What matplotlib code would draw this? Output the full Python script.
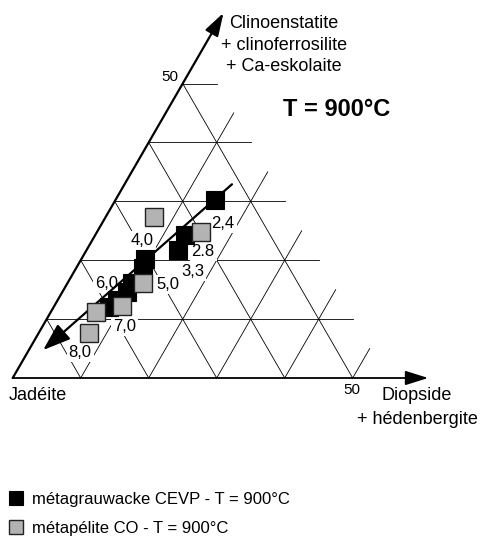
import numpy as np
import matplotlib
import matplotlib.pyplot as plt
matplotlib.rcParams.update({'font.family': ['Liberation Sans', 'DejaVu Sans']})

SIN60 = np.sqrt(3) / 2

# compositions, in % (diopside, clinoenstatite)
grau_di = [14.6, 13.2, 13.4, 9.4, 9.8, 9.5, 9.5, 8.7, 8.1]
grau_en = [30.2, 24.3, 21.7, 20.2, 18.7, 16.1, 14.6, 13.2, 12.1]
pel_di = [7.1, 15.3, 11.1, 10.0, 6.6, 7.4]
pel_en = [27.3, 24.8, 16.1, 12.2, 11.2, 7.6]

# pressure labels (GPa) and where they sit in the diagram
p_labels = ['2,4', '4,0', '2.8', '3,3', '5,0', '6,0', '7,0', '8,0']
p_di = [17.8, 7.4, 17.3, 17.5, 14.9, 5.8, 12.1, 7.7]
p_en = [26.3, 23.4, 21.4, 18.0, 15.8, 16.1, 8.8, 4.4]

# pressure trend, start -> end
trend_di = [15.8, 2.1]
trend_en = [32.9, 4.75]

W, H = 480, 537
X0, Y0, SC = 12.7, 378, 6.8   # jadeite corner in pixels, px per %


def tern(di, en):
    di = np.asarray(di, float)
    en = np.asarray(en, float)
    return di + en / 2, en * SIN60


def px(x, y):
    return (x - X0) / SC, (Y0 - y) / SC


fig = plt.figure(figsize=(W / 100, H / 100), dpi=100)
ax = fig.add_axes([0, 0, 1, 1])
ax.set_xlim(px(0, 0)[0], px(W, 0)[0])
ax.set_ylim(px(0, H)[1], px(0, 0)[1])
ax.axis('off')

gkw = dict(color='k', lw=0.6, zorder=1)
for c in range(10, 60, 10):
    ax.plot(*tern([0, 55 - c], [c, c]), **gkw)
for d in range(10, 60, 10):
    ax.plot(*tern([d, d], [0, 55 - d]), **gkw)
for j in range(50, 100, 10):
    ax.plot(*tern([100 - j, 0], [0, 100 - j]), **gkw)

# the two axes with arrows
ax.annotate('', xy=tern(61.1, 0), xytext=tern(0, 0),
            arrowprops=dict(arrowstyle='-|>,head_length=0.7,head_width=0.22',
                            mutation_scale=20, lw=1.3, color='k',
                            shrinkA=0, shrinkB=0), zorder=2)
ax.annotate('', xy=tern(0, 62), xytext=tern(0, 0),
            arrowprops=dict(arrowstyle='-|>,head_length=0.7,head_width=0.22',
                            mutation_scale=20, lw=1.6, color='k',
                            shrinkA=0, shrinkB=0), zorder=2)

# pressure labels
for lbl, d, c in zip(p_labels, p_di, p_en):
    ax.text(*tern(d, c), lbl, fontsize=12, ha='center', va='center', zorder=3,
            bbox=dict(boxstyle='square,pad=0.12', fc='white', ec='none'))

# trend arrow
ax.annotate('', xy=tern(trend_di[1], trend_en[1]),
            xytext=tern(trend_di[0], trend_en[0]),
            arrowprops=dict(arrowstyle='-|>,head_length=0.85,head_width=0.3',
                            mutation_scale=20, lw=1.6, color='k',
                            shrinkA=0, shrinkB=0), zorder=4)

ax.plot(*tern(grau_di, grau_en), ls='none', marker='s', ms=12.5, mfc='k',
        mec='k', mew=0.8, zorder=5, label='métagrauwacke CEVP - T = 900°C')
ax.plot(*tern(pel_di, pel_en), ls='none', marker='s', ms=12.5, mfc='#b3b3b3',
        mec='#222222', mew=1.0, zorder=6, label='métapélite CO - T = 900°C')

# axis titles and scale marks
ax.text(*px(284, 45), 'Clinoenstatite\n+ clinoferrosilite\n+ Ca-eskolaite',
        fontsize=13, ha='center', va='center', linespacing=1.35)
ax.text(*px(337, 110), 'T = 900°C', fontsize=17, fontweight='bold',
        ha='center', va='center')
ax.text(*px(9, 395), 'Jadéite', fontsize=13, ha='left', va='center')
ax.text(*px(417, 395), 'Diopside', fontsize=13, ha='center', va='center')
ax.text(*px(417, 420), '+ hédenbergite', fontsize=13, ha='center',
        va='center')
ax.text(*px(170, 77), '50', fontsize=11, ha='center', va='center')
ax.text(*px(352, 390), '50', fontsize=11, ha='center', va='center')

fig.legend(loc='upper left', bbox_to_anchor=(8 / W, 1 - 492 / H),
           frameon=False, fontsize=12, markerscale=0.86, handlelength=0.9,
           handletextpad=0.55, labelspacing=0.82, borderpad=0, borderaxespad=0)

fig.savefig('out.png', dpi=100)
